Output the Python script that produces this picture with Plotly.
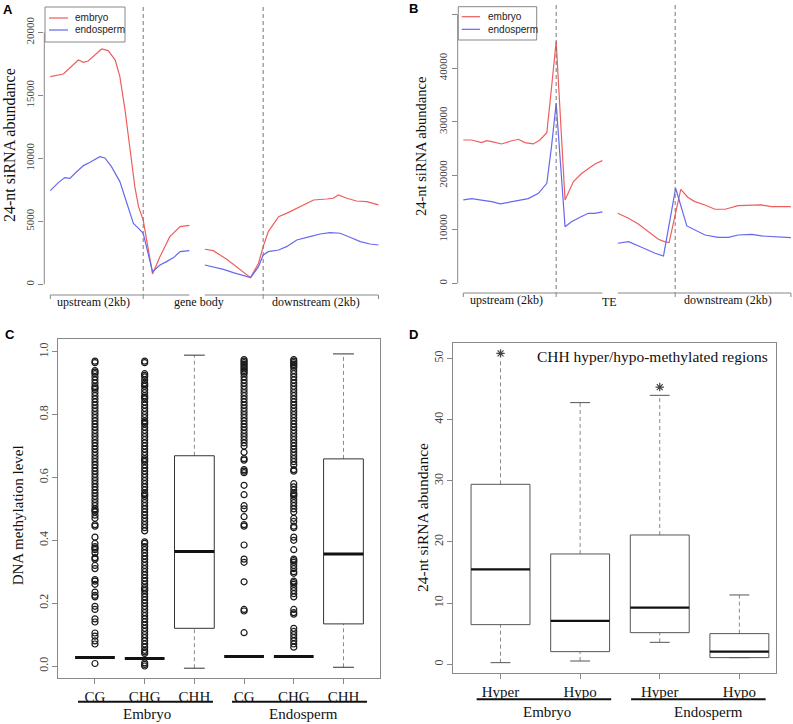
import plotly.graph_objects as go

W, H = 793, 724


def px(x):
    return x / W


def py(y):
    return 1 - y / H


SERIF = "Liberation Serif, Times New Roman, serif"
SANS = "Liberation Sans, Arial, sans-serif"
RED = "#ef5d5d"
BLUE = "#6767ef"
GRAY = "#888888"
TICKTXT = "#444444"

# ---------------- Panel A data (bins along gene, siRNA abundance) ----------------
a_embryo_pos = [0, 2.8, 6, 7.1, 8.1, 11, 12.4, 13.9, 14.9, 16, 17.1, 18.1, 18.9, 19.9,
                21.9, 23.5, 25.6, 27.8, 29.8, None,
                33.1, 34.9, 37.8, 40.6, 42.9, 44.6, 45.6, 46.7, 48.9, 50.6, 53.5, 56.4,
                59.2, 60.6, 61.7, 63.5, 65.6, 67.8, 70.3]
a_embryo_val = [16480, 16690, 17800, 17620, 17720, 18680, 18550, 17800, 16480, 13840, 10660,
                7750, 6160, 5100,
                820, 2200, 3780, 4580, 4680, None,
                2780, 2670, 1980, 1190, 530, 1670, 2990, 4180, 5370, 5630, 6160, 6690,
                6770, 6830, 7090, 6830, 6610, 6560, 6300]
a_endo_pos = [0, 1.7, 3.1, 4.2, 5.3, 7.1, 8.5, 10.6, 11.7, 13.1, 14.9, 16.4, 17.8, 18.9, 19.9,
              21.9, 23.5, 24.9, 26.4, 27.8, 29.8, None,
              33.1, 34.9, 37.1, 39.2, 42.9, 44.6, 45.6, 46.7, 48.9, 50.6, 52.8, 55.6, 57.8,
              59.9, 62.1, 64.2, 66.4, 68.5, 70.3]
a_endo_val = [7430, 8070, 8470, 8410, 8810, 9420, 9680, 10130, 10030, 9340, 8150, 6430, 4840,
              4440, 4050,
              1000, 1530, 1800, 2120, 2590, 2670, None,
              1530, 1400, 1190, 930, 530, 1400, 2330, 2590, 2720, 2990, 3520, 3780, 3990,
              4100, 4050, 3730, 3390, 3200, 3120]
a_yticks = [0, 5000, 10000, 15000, 20000]
a_region_labels = ["upstream (2kb)", "gene body", "downstream (2kb)"]

# ---------------- Panel B data (around TEs) ----------------
b_embryo_pos = [0, 1.8, 3.9, 5, 6.1, 8.2, 10, 11.8, 13.2, 15, 16.4, 17.9, 19, 19.9,
                21.8, 23.6, 25.4, 26.8, 28.2, 29.8, None,
                33.1, 35.4, 37.5, 39.6, 41.8, 43.1, 44.1,
                46.6, 48.1, 49.6, 51.8, 53.9, 56.1, 58.9, 61.1, 63.9, 66.1, 70.2]
b_embryo_val = [26640, 26640, 26150, 26520, 26330, 25900, 26400, 26770, 26150, 25900, 26640,
                28010, 37180, 44920,
                15490, 18900, 20450, 21380, 22180, 22800, None,
                13010, 12080, 11030, 9600, 8180, 7750, 7560,
                17470, 15990, 15180, 14560, 13760, 13760, 14440, 14440, 14560, 14250, 14250]
b_endo_pos = [0, 1.8, 4.6, 6.1, 7.9, 10, 11.8, 13.9, 16.1, 17.9, 18.9, 19.9,
              21.8, 23.2, 25, 26.8, 28.2, 29.8, None,
              33.1, 35.4, 38.2, 41.1, 42.9,
              45.5, 47.9, 49.6, 51.8, 54.6, 56.8, 58.9, 61.8, 63.9, 67.5, 70.2]
b_endo_val = [15490, 15740, 15370, 15180, 14750, 15060, 15370, 15740, 16730, 18590, 25400,
              33460,
              10530, 11460, 12270, 13010, 13010, 13260, None,
              7440, 7750, 6690, 5580, 5080,
              17660, 10660, 9910, 8980, 8550, 8550, 8980, 9110, 8800, 8550, 8490]
b_yticks = [0, 10000, 20000, 30000, 40000, 50000]
b_region_labels = ["upstream (2kb)", "TE", "downstream (2kb)"]

# ---------------- Panel C data (DNA methylation boxplots) ----------------
c_categories = ["CG", "CHG", "CHH", "CG", "CHG", "CHH"]
c_groups = ["Embryo", "Endosperm"]
c_q1 = [0.027, 0.024, 0.120, 0.030, 0.030, 0.134]
c_median = [0.027, 0.024, 0.364, 0.030, 0.030, 0.356]
c_q3 = [0.027, 0.024, 0.669, 0.030, 0.030, 0.659]
c_lower = [0.027, 0.024, -0.007, 0.030, 0.030, -0.004]
c_upper = [0.027, 0.024, 0.989, 0.030, 0.030, 0.993]
c_out_embryo_cg = [0.97, 0.965, 0.94, 0.935, 0.93, 0.92, 0.91, 0.90, 0.89, 0.885, 0.88, 0.87,
                   0.86, 0.85, 0.84, 0.83, 0.82, 0.81, 0.80, 0.79, 0.78, 0.77, 0.76, 0.75,
                   0.74, 0.73, 0.72, 0.71, 0.70, 0.69, 0.68, 0.67, 0.66, 0.65, 0.64, 0.63,
                   0.62, 0.61, 0.60, 0.59, 0.58, 0.57, 0.56, 0.55, 0.54, 0.53, 0.52, 0.51,
                   0.50, 0.495, 0.49, 0.48, 0.47, 0.45, 0.445, 0.41, 0.39, 0.38, 0.375, 0.37,
                   0.36, 0.345, 0.34, 0.32, 0.31, 0.275, 0.27, 0.26, 0.235, 0.225, 0.22,
                   0.19, 0.18, 0.15, 0.14, 0.105, 0.095, 0.08, 0.07, 0.008]
c_out_embryo_chg = [0.97, 0.965, 0.93, 0.925, 0.92, 0.91, 0.90, 0.895, 0.89, 0.88, 0.87,
                    0.86, 0.855, 0.85, 0.84, 0.83, 0.82, 0.81, 0.80, 0.79, 0.78, 0.775,
                    0.77, 0.76, 0.75, 0.74, 0.73, 0.72, 0.71, 0.70, 0.69, 0.68, 0.67, 0.66,
                    0.655, 0.65, 0.64, 0.63, 0.62, 0.61, 0.60, 0.59, 0.58, 0.57, 0.56, 0.55,
                    0.545, 0.54, 0.53, 0.52, 0.51, 0.50, 0.49, 0.48, 0.47, 0.46, 0.45, 0.44,
                    0.43, 0.395, 0.39, 0.38, 0.37, 0.36, 0.35, 0.34, 0.33, 0.32, 0.31, 0.30,
                    0.29, 0.28, 0.27, 0.26, 0.25, 0.245, 0.24, 0.23, 0.22, 0.21, 0.20, 0.19,
                    0.18, 0.17, 0.16, 0.15, 0.14, 0.13, 0.12, 0.11, 0.10, 0.09, 0.08, 0.07,
                    0.06, 0.05, 0.045, 0.04, 0.01, 0.005, 0.0]
c_out_endo_cg = [0.975, 0.97, 0.965, 0.96, 0.955, 0.95, 0.945, 0.94, 0.935, 0.93, 0.92, 0.91,
                 0.90, 0.89, 0.88, 0.87, 0.86, 0.85, 0.84, 0.83, 0.82, 0.81, 0.80, 0.79,
                 0.78, 0.77, 0.76, 0.75, 0.74, 0.73, 0.72, 0.71, 0.70, 0.68, 0.66, 0.655,
                 0.625, 0.62, 0.615, 0.575, 0.545, 0.51, 0.50, 0.475, 0.45, 0.445, 0.385,
                 0.34, 0.33, 0.268, 0.18, 0.175, 0.106]
c_out_endo_chg = [0.975, 0.97, 0.965, 0.96, 0.955, 0.95, 0.94, 0.93, 0.92, 0.91, 0.90, 0.89,
                  0.88, 0.87, 0.86, 0.85, 0.84, 0.83, 0.82, 0.81, 0.80, 0.79, 0.78, 0.77,
                  0.76, 0.75, 0.74, 0.73, 0.72, 0.71, 0.70, 0.69, 0.68, 0.67, 0.66, 0.65,
                  0.64, 0.625, 0.62, 0.58, 0.57, 0.56, 0.55, 0.545, 0.54, 0.53, 0.52, 0.51,
                  0.50, 0.49, 0.47, 0.46, 0.445, 0.44, 0.41, 0.40, 0.37, 0.34, 0.335, 0.33,
                  0.32, 0.31, 0.30, 0.295, 0.27, 0.265, 0.26, 0.25, 0.24, 0.23, 0.22, 0.18,
                  0.17, 0.165, 0.12, 0.11, 0.10, 0.09, 0.08, 0.07, 0.06]
c_outliers = [c_out_embryo_cg, c_out_embryo_chg, [], c_out_endo_cg, c_out_endo_chg, []]
c_yticks = [0.0, 0.2, 0.4, 0.6, 0.8, 1.0]

# ---------------- Panel D data (siRNA in CHH hyper/hypo regions) ----------------
d_categories = ["Hyper", "Hypo", "Hyper", "Hypo"]
d_groups = ["Embryo", "Endosperm"]
d_q1 = [6.48, 2.07, 5.17, 1.09]
d_median = [15.52, 7.08, 9.26, 2.07]
d_q3 = [29.41, 18.03, 21.13, 5.01]
d_lower = [0.27, 0.54, 3.59, 1.09]
d_upper = [49.8, 42.76, 43.95, 11.33]
d_upper_cap = [False, True, True, True]
d_star_pos = [1, 3]
d_star_val = [50.8, 45.3]
d_yticks = [0, 10, 20, 30, 40, 50]
d_title = "CHH hyper/hypo-methylated regions"

fig = go.Figure()

# ---- line panels ----
for xs, ys, col, xa, ya in [
    (a_embryo_pos, a_embryo_val, RED, "x", "y"),
    (a_endo_pos, a_endo_val, BLUE, "x", "y"),
    (b_embryo_pos, b_embryo_val, RED, "x2", "y2"),
    (b_endo_pos, b_endo_val, BLUE, "x2", "y2"),
]:
    fig.add_trace(go.Scatter(x=xs, y=ys, mode="lines", xaxis=xa, yaxis=ya,
                             line=dict(color=col, width=1.2), connectgaps=False,
                             hoverinfo="skip"))


def add_boxes(positions, q1, med, q3, lo, hi, half_w, cap_w, top_cap, xa, ya,
              box_col, med_w):
    bx, by, mx, my, wx, wy, cx, cy = [], [], [], [], [], [], [], []
    for i, p in enumerate(positions):
        if q3[i] > q1[i]:
            bx += [p - half_w, p + half_w, p + half_w, p - half_w, p - half_w, None]
            by += [q1[i], q1[i], q3[i], q3[i], q1[i], None]
        mx += [p - half_w, p + half_w, None]
        my += [med[i], med[i], None]
        if hi[i] > q3[i]:
            wx += [p, p, None]
            wy += [q3[i], hi[i], None]
            if top_cap[i]:
                cx += [p - cap_w, p + cap_w, None]
                cy += [hi[i], hi[i], None]
        if lo[i] < q1[i]:
            wx += [p, p, None]
            wy += [lo[i], q1[i], None]
        if lo[i] < q1[i] or q3[i] > q1[i]:
            cx += [p - cap_w, p + cap_w, None]
            cy += [lo[i], lo[i], None]
    fig.add_trace(go.Scatter(x=wx, y=wy, mode="lines", xaxis=xa, yaxis=ya,
                             line=dict(color="#8a8a8a", width=1, dash="4px,3px"),
                             hoverinfo="skip"))
    fig.add_trace(go.Scatter(x=cx, y=cy, mode="lines", xaxis=xa, yaxis=ya,
                             line=dict(color=box_col, width=1), hoverinfo="skip"))
    fig.add_trace(go.Scatter(x=bx, y=by, mode="lines", xaxis=xa, yaxis=ya,
                             line=dict(color=box_col, width=1), hoverinfo="skip"))
    fig.add_trace(go.Scatter(x=mx, y=my, mode="lines", xaxis=xa, yaxis=ya,
                             line=dict(color="#111111", width=med_w), hoverinfo="skip"))


c_pos = list(range(1, len(c_categories) + 1))
add_boxes(c_pos, c_q1, c_median, c_q3, c_lower, c_upper, 0.4, 0.21,
          [True] * 6, "x3", "y3", "#333333", 3)
ox, oy = [], []
for p, vals in zip(c_pos, c_outliers):
    ox += [p] * len(vals)
    oy += vals
fig.add_trace(go.Scatter(x=ox, y=oy, mode="markers", xaxis="x3", yaxis="y3",
                         marker=dict(symbol="circle-open", size=6, color="#1a1a1a",
                                     line=dict(width=1.2)),
                         hoverinfo="skip"))

d_pos = list(range(1, len(d_categories) + 1))
add_boxes(d_pos, d_q1, d_median, d_q3, d_lower, d_upper, 0.37, 0.125,
          d_upper_cap, "x4", "y4", "#555555", 2.2)
fig.add_trace(go.Scatter(x=d_star_pos, y=d_star_val, mode="markers", xaxis="x4", yaxis="y4",
                         marker=dict(symbol="asterisk-open", size=7, color="#444444",
                                     line=dict(width=1.2)),
                         hoverinfo="skip"))

# ---- axes ----
ytick_common = dict(ticks="outside", ticklen=5, tickwidth=1, tickcolor=GRAY,
                    showgrid=False, zeroline=False, tickangle=-90,
                    tickfont=dict(family=SERIF, size=11, color=TICKTXT))
fig.update_layout(
    width=W, height=H, margin=dict(l=0, r=0, t=0, b=0),
    paper_bgcolor="white", plot_bgcolor="white", showlegend=False,
    xaxis=dict(domain=[px(44.3), px(385)], range=[-1.29, 71.7], visible=False, anchor="y"),
    yaxis=dict(domain=[py(300), py(5)], range=[-1246, 22167], anchor="x",
               tickvals=a_yticks, ticktext=[str(v) for v in a_yticks],
               showline=False, **ytick_common),
    xaxis2=dict(domain=[px(457.7), 1.0], range=[-1.2, 70.65], visible=False, anchor="y2"),
    yaxis2=dict(domain=[py(300), py(5)], range=[-3104, 51729], anchor="x2",
                tickvals=b_yticks, ticktext=[str(v) for v in b_yticks],
                showline=False, **ytick_common),
    xaxis3=dict(domain=[px(58.3), px(380)], range=[0.262, 6.735], anchor="y3",
                tickvals=c_pos, ticktext=c_categories, ticks="outside", ticklen=5,
                tickcolor=GRAY, showline=True, mirror=True, linecolor=GRAY, linewidth=1,
                showgrid=False, zeroline=False,
                tickfont=dict(family=SERIF, size=15, color="#111111")),
    yaxis3=dict(domain=[py(678.3), py(339.3)], range=[-0.0391, 1.0395], anchor="x3",
                tickvals=c_yticks, ticktext=["%.1f" % v for v in c_yticks],
                showline=True, mirror=True, linecolor=GRAY, linewidth=1,
                **{**ytick_common, "tickfont": dict(family=SERIF, size=12, color=TICKTXT)}),
    xaxis4=dict(domain=[px(453.3), px(776)], range=[0.407, 4.46], anchor="y4",
                tickvals=d_pos, ticktext=d_categories, ticks="outside", ticklen=5,
                tickcolor=GRAY, showline=True, mirror=True, linecolor=GRAY, linewidth=1,
                showgrid=False, zeroline=False,
                tickfont=dict(family=SERIF, size=15, color="#111111")),
    yaxis4=dict(domain=[py(673.3), py(342.7)], range=[-1.47, 52.55], anchor="x4",
                tickvals=d_yticks, ticktext=[str(v) for v in d_yticks],
                showline=True, mirror=True, linecolor=GRAY, linewidth=1,
                **{**ytick_common, "tickfont": dict(family=SERIF, size=12, color=TICKTXT)}),
)

shapes = []
annotations = []


def line_shape(x0, y0, x1, y1, xref="paper", yref="paper", color=GRAY, width=1, dash=None):
    d = dict(type="line", x0=x0, y0=y0, x1=x1, y1=y1, xref=xref, yref=yref,
             line=dict(color=color, width=width))
    if dash:
        d["line"]["dash"] = dash
    return d


def text(x, y, s, size, family=SERIF, xref="paper", yref="paper", angle=0,
         color="#111111", xanchor="center", bold=False):
    annotations.append(dict(x=x, y=y, xref=xref, yref=yref, text=("<b>%s</b>" % s if bold else s),
                            showarrow=False, textangle=angle, xanchor=xanchor,
                            yanchor="middle", font=dict(family=family, size=size, color=color)))


# A/B y-axis lines spanning the tick range
shapes.append(line_shape(0, a_yticks[0], 0, a_yticks[-1], xref="x domain", yref="y"))
shapes.append(line_shape(0, b_yticks[0], 0, b_yticks[-1], xref="x2 domain", yref="y2"))

# dashed boundaries, brackets and region labels for A and B
for xa, bounds, gap, end, ytop, ybr, labels, lab_pos, lab_y in [
    ("x", [19.9, 45.6], (29.8, 33.1), 70.3, 7, 295, a_region_labels, [9.15, 31.9, 56.9], [302, 302, 302]),
    ("x2", [19.9, 45.4], (29.8, 33.1), 70.2, 5, 293, b_region_labels, [9.3, 31.4, 56.7], [300, 302, 300]),
]:
    for b in bounds:
        shapes.append(line_shape(b, py(ytop), b, py(ybr), xref=xa, color="#777777",
                                 dash="4px,3px"))
    shapes.append(line_shape(0, py(ybr), gap[0], py(ybr), xref=xa))
    shapes.append(line_shape(gap[1], py(ybr), end, py(ybr), xref=xa))
    for t in [0, bounds[0], bounds[1], end]:
        shapes.append(line_shape(t, py(ybr), t, py(ybr + 4), xref=xa))
    for s, xp, yp in zip(labels, lab_pos, lab_y):
        text(xp, py(yp), s, 12, xref=xa)

# manual legends
for (bx0, by0, bx1, by1, lx0, lx1, tx, y1, y2) in [
    (45, 7, 125, 42, 49, 68, 73, 18, 30),
    (458.3, 6.7, 536.7, 40, 461.7, 480, 485.7, 16.7, 29.3),
]:
    shapes.append(dict(type="rect", x0=px(bx0), x1=px(bx1), y0=py(by1), y1=py(by0),
                       xref="paper", yref="paper", line=dict(color=GRAY, width=1),
                       fillcolor="white", layer="above"))
    shapes.append(line_shape(px(lx0), py(y1), px(lx1), py(y1), color=RED, width=1.2))
    shapes.append(line_shape(px(lx0), py(y2), px(lx1), py(y2), color=BLUE, width=1.2))
    text(px(tx), py(y1), "embryo", 10, family=SANS, xanchor="left", color="#222222")
    text(px(tx), py(y2), "endosperm", 10, family=SANS, xanchor="left", color="#222222")

# group underlines and labels for C and D
for xa, segs, lab_x, yline, ylab, groups in [
    ("x3", [(0.658, 3.374), (3.757, 6.473)], [2.05, 5.19], 701.7, 714, c_groups),
    ("x4", [(0.70, 2.39), (2.64, 4.33)], [1.585, 3.61], 699.3, 711.7, d_groups),
]:
    for (s0, s1) in segs:
        shapes.append(line_shape(s0, py(yline), s1, py(yline), xref=xa, color="#111111",
                                 width=2))
    for g, lx in zip(groups, lab_x):
        text(lx, py(ylab), g, 15, xref=xa)

# y-axis titles
text(px(9), py(145), "24-nt siRNA abundance", 16, angle=-90)
text(px(421), py(147), "24-nt siRNA abundance", 14.5, angle=-90)
text(px(18.3), py(515), "DNA methylation level", 15, angle=-90)
text(px(422.5), py(517.5), "24-nt siRNA abundance", 15.5, angle=-90)

# D inner title
text(px(652.5), py(356.7), d_title, 15.5)

# panel letters
for s, x, y in [("A", 8.3, 9.2), ("B", 413.3, 8.5), ("C", 9.5, 334), ("D", 413, 334)]:
    text(px(x), py(y), s, 13, family=SANS, bold=True, color="#000000")

fig.update_layout(shapes=shapes, annotations=annotations)
fig.write_html("out.html", config={"displayModeBar": False},
               post_script="document.body.style.margin='0';document.body.style.padding='0';")
